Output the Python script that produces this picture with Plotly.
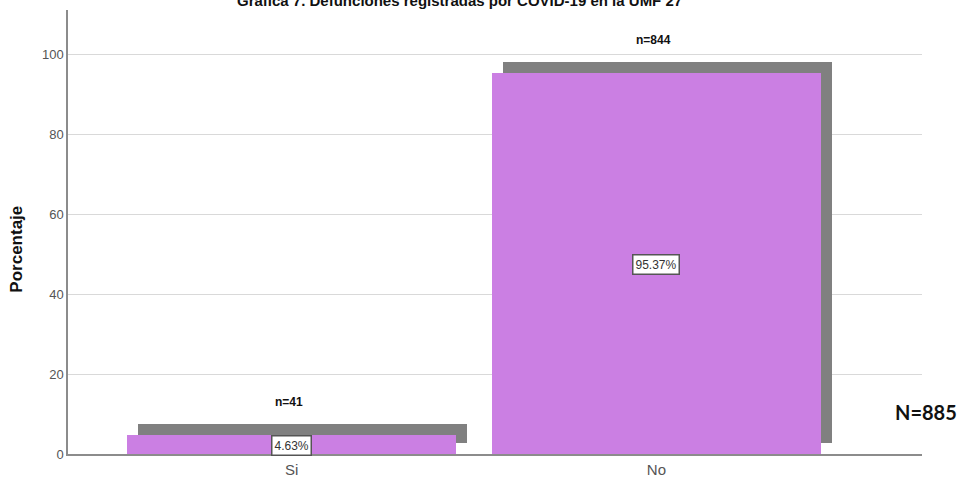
import plotly.graph_objects as go

# Data
categories = ["Si", "No"]
percentages = [4.63, 95.37]
counts = [41, 844]
total_n = 885
title_text = "Gráfica 7. Defunciones registradas por COVID-19 en la UMF 27"
y_ticks = [0, 20, 40, 60, 80, 100]

pink = "#CB7FE3"
shadow = "#808080"
bar_width = 0.9
shadow_dx = 0.03      # horizontal shift of the shadow (category units)
shadow_base = 2.75    # vertical lift of the shadow (percent units)

xs = list(range(len(categories)))

fig = go.Figure()

# drop-shadow bars
fig.add_trace(go.Bar(
    x=[x + shadow_dx for x in xs], y=percentages, base=[shadow_base] * len(xs),
    width=bar_width, marker=dict(color=shadow, line=dict(width=0)),
    hoverinfo="skip", showlegend=False,
))
# main bars
fig.add_trace(go.Bar(
    x=xs, y=percentages, width=bar_width,
    marker=dict(color=pink, line=dict(width=0)),
    showlegend=False,
))

annotations = []
for x, p, n in zip(xs, percentages, counts):
    # percentage box in the middle of the bar
    annotations.append(dict(
        x=x, y=p / 2, xref="x", yref="y", text=f"{p:.2f}%", showarrow=False,
        yshift=-1,
        font=dict(family="Arial, Liberation Sans", size=12, color="#333333"),
        bgcolor="white", bordercolor="#555555", borderwidth=1.5, borderpad=2,
    ))
    # count above the bar
    annotations.append(dict(
        x=x, y=p + 8, xref="x", yref="y", text=f"<b>n={n}</b>", showarrow=False,
        yanchor="middle", xshift=-3, yshift=1,
        font=dict(family="Arial, Liberation Sans", size=12, color="#111111"),
    ))

# chart title (partly above the top edge)
annotations.append(dict(
    x=0.459, y=1, xref="paper", yref="paper", text=f"<b>{title_text}</b>",
    showarrow=False, xanchor="center", yanchor="bottom", yshift=-1,
    font=dict(family="Arial, Liberation Sans", size=15, color="#111111"),
))
# y-axis title
annotations.append(dict(
    x=-0.06, y=0.462, xref="paper", yref="paper", text="<b>Porcentaje</b>",
    showarrow=False, textangle=-90, xanchor="center", yanchor="middle",
    font=dict(family="Arial, Liberation Sans", size=17, color="#111111"),
))
# overall sample size
annotations.append(dict(
    x=1.0047, y=0.0946, xref="paper", yref="paper", text=f"<b>N={total_n}</b>",
    showarrow=False, xanchor="center", yanchor="middle",
    font=dict(family="Lato, Open Sans", size=20, color="#111111"),
))

fig.update_layout(
    width=963, height=480,
    margin=dict(l=68, r=41, t=10, b=26),
    paper_bgcolor="white", plot_bgcolor="white",
    barmode="overlay", bargap=0,
    annotations=annotations,
    xaxis=dict(
        range=[-0.613, 1.728], tickmode="array", tickvals=xs, ticktext=categories,
        showgrid=False, zeroline=False, showline=True, linecolor="#8c8c8c", linewidth=1.5,
        ticks="", ticklabelstandoff=1, automargin=False,
        tickfont=dict(family="Arial, Liberation Sans", size=15, color="#555555"),
    ),
    yaxis=dict(
        range=[0, 111], tickmode="array", tickvals=y_ticks,
        showgrid=True, gridcolor="#d9d9d9", gridwidth=1.2, zeroline=False,
        showline=True, linecolor="#8c8c8c", linewidth=1.5, ticks="", automargin=False,
        tickfont=dict(family="Arial, Liberation Sans", size=13, color="#555555"),
    ),
)

fig.write_html("out.html")
